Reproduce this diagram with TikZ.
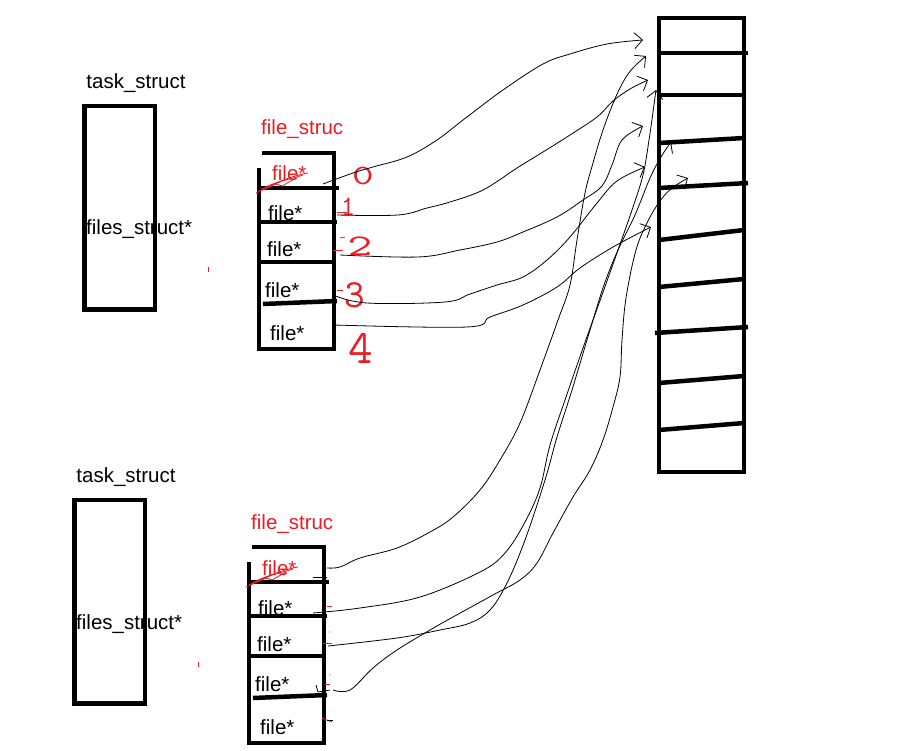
\documentclass[tikz,border=0pt]{standalone}
\usepackage{fontspec}
\setmainfont{Liberation Sans}
\usepackage{graphicx}
\usetikzlibrary{arrows.meta}
\definecolor{pred}{RGB}{237,28,36}
\newcommand\fstable[1]{%
  \draw[heavy] (262,153) -- (334,153) -- (334,349) -- (259,349) -- (259,168);
  \draw[heavy] (257,188) -- (339,188);
  \draw[heavy] (257,222) -- (337,222);
  \draw[heavy] (257,262) -- (334,262);
  \draw[heavy] (263,304) -- (337,301);
  \node[rlbl, anchor=base west] (#1title) at (261,135) {file\_struc};
  \draw[scrib] (256,193) -- (284,180);
  \draw[scrib] (259,191) .. controls (272,182) and (288,180) .. (303,175);
  \draw[scrib] (266,188) .. controls (280,181) and (292,176) .. (308,173);
  \draw[scrib] (262,190) -- (276,184) -- (282,186) -- (296,178);
  \node[rlbl, anchor=base west] (#1r0) at (272,181) {file*};
  \node[lbl, anchor=base west] (#1r1) at (268,221) {file*};
  \node[lbl, anchor=base west] (#1r2) at (267,257) {file*};
  \node[lbl, anchor=base west] (#1r3) at (265,297) {file*};
  \node[lbl, anchor=base west] (#1r4) at (270,340) {file*};
}
\begin{document}
\begin{tikzpicture}[x=1pt,y=-1pt,
  heavy/.style={line width=4.5pt, line join=miter},
  conn/.style={line width=0.8pt, -{Straight Barb[length=8pt,width=16pt,line width=0.8pt]}},
  plain/.style={line width=0.8pt},
  lbl/.style={font=\fontsize{20.5}{23}\selectfont, inner sep=0pt},
  rlbl/.style={lbl, text=pred},
  hand/.style={text=pred, inner sep=0pt, font=\ttfamily},
  scrib/.style={pred, line width=0.8pt}
]
\useasboundingbox[fill=white] (0,0) rectangle (912,751);

% ---------- task_struct boxes ----------
\draw[heavy] (84.5,106) rectangle (155,309.5);
\node[lbl] (task1) at (136,83) {task\_struct};
\node[lbl, anchor=base west] (fs1) at (86,235) {files\_struct*};
\begin{scope}[shift={(-10,394)}]
  \draw[heavy] (84.5,106) rectangle (155,309.5);
  \node[lbl] (task2) at (136,83) {task\_struct};
  \node[lbl, anchor=base west] (fs2) at (86,235) {files\_struct*};
\end{scope}
\draw[scrib] (208,267) -- (208,272);
\draw[scrib] (198,662) -- (198,667);

% ---------- files tables ----------
\fstable{a}
\begin{scope}[shift={(-10,394)}]
  \fstable{b}
\end{scope}

% red hand-written indices (top table)
\node[hand, font=\ttfamily\fontsize{28}{28}\selectfont] (n0) at (363,176) {\scalebox{1.5}[1]{0}};
\node[hand, font=\ttfamily\fontsize{28}{28}\selectfont] (n1) at (348,207) {1};
\node[hand, font=\ttfamily\fontsize{30}{30}\selectfont] (n2) at (360,246) {\scalebox{1.6}[1]{2}};
\node[hand, font=\ttfamily\fontsize{40}{40}\selectfont] (n3) at (355,295) {3};
\node[hand, font=\ttfamily\fontsize{48}{48}\selectfont] (n4) at (361,348) {4};
\draw[scrib] (337,212) -- (347,212);
\draw[scrib] (340,238) -- (345,237);
\draw[scrib] (333,250) -- (343,250);
\draw[scrib] (337,290) -- (343,290);

% red ticks (bottom table)
\draw[scrib] (327,606) -- (332,606);
\draw[scrib] (323,643) -- (332,643);
\draw[scrib] (325,684) -- (330,684);
\draw[scrib] (322,718) -- (332,722);
\fill[pred] (330,632) circle (0.6);
\fill[pred] (330,675) circle (0.6);

% ---------- right table ----------
\draw[heavy] (659,18) rectangle (744,472);
\draw[heavy] (659,53) -- (748,53);
\draw[heavy] (659,95) -- (744,95);
\draw[heavy] (659,143) -- (744,138);
\draw[heavy] (659,188) -- (748,183);
\draw[heavy] (659,240) -- (744,230);
\draw[heavy] (659,287) -- (744,279);
\draw[heavy] (655,333) -- (748,327);
\draw[heavy] (659,383) -- (744,376);
\draw[heavy] (659,430) -- (744,423);

% ---------- connector end points ----------
\coordinate (s0) at (323,184);
\coordinate (s1) at (337,215);
\coordinate (s2) at (340,255);
\coordinate (s3) at (333,295);
\coordinate (s4) at (334,325);
\coordinate (e0) at (643,40);
\coordinate (e1) at (648,80);
\coordinate (e2) at (643,126);
\coordinate (e3) at (645,167);
\coordinate (e4) at (651,227);

\coordinate (t0) at (327,568);
\coordinate (t1) at (313,613);
\coordinate (t2) at (328,646);
\coordinate (t3) at (333,690);
\coordinate (f0) at (646,56);
\coordinate (f1) at (656,90);
\coordinate (f2) at (671,142);
\coordinate (f3) at (688,178);

% top table connectors
\draw[conn] plot[smooth, tension=0.6] coordinates {(s0) (353,173) (373,167) (407,157) (437,140) (463,120) (503,90) (543,64) (570,54) (607,44) (e0)};
\draw[conn] plot[smooth, tension=0.6] coordinates {(s1) (398,215) (427,208) (450,202) (483,190) (517,168) (543,152) (570,135) (597,117) (613,101) (630,89) (e1)};
\draw[conn] plot[smooth, tension=0.6] coordinates {(s2) (418,257) (460,250) (497,242) (523,232) (557,217) (583,200) (602,186) (612,165) (622,140) (e2)};
\draw[conn] plot[smooth, tension=0.6] coordinates {(s3) (367,303) (445,302) (470,294) (497,285) (523,277) (547,260) (570,237) (597,203) (617,181) (e3)};
\draw[conn] plot[smooth, tension=0.6] coordinates {(s4) (467,327) (490,317) (523,305) (557,287) (580,268) (613,247) (e4)};

% bottom table connectors
\draw[conn] plot[smooth, tension=0.6] coordinates {(t0) (340,567) (360,558) (397,548) (430,532) (453,517) (480,490) (500,460) (520,423) (540,370) (558,320) (570,285) (577,240) (585,193) (593,163) (602,133) (612,106) (622,84) (632,69) (f0)};
\draw[conn] plot[smooth, tension=0.6] coordinates {(t1) (360,608) (420,597) (480,572) (505,553) (525,522) (540,488) (550,445) (565,400) (583,348) (602,295) (618,250) (632,210) (643,175) (649,140) (653,112) (f1)};
\draw[conn] plot[smooth, tension=0.6] coordinates {(t2) (397,638) (440,630) (470,623) (490,610) (507,583) (525,540) (545,480) (557,437) (572,390) (590,330) (604,285) (618,250) (635,215) (650,178) (661,157) (f2)};
\draw[conn] plot[smooth, tension=0.6] coordinates {(t3) (350,690) (373,668) (397,650) (430,630) (453,617) (493,595) (520,580) (537,563) (553,533) (573,497) (590,470) (603,440) (613,407) (620,377) (622,340) (626,298) (636,250) (648,221) (660,201) (672,188) (f3)};

% small stray strokes
\draw[plain] (313,577) -- (327,577);
\draw[plain] (316,685) -- (318,692) -- (330,690);
\draw[plain] (327,720) -- (333,720);
\end{tikzpicture}
\end{document}
